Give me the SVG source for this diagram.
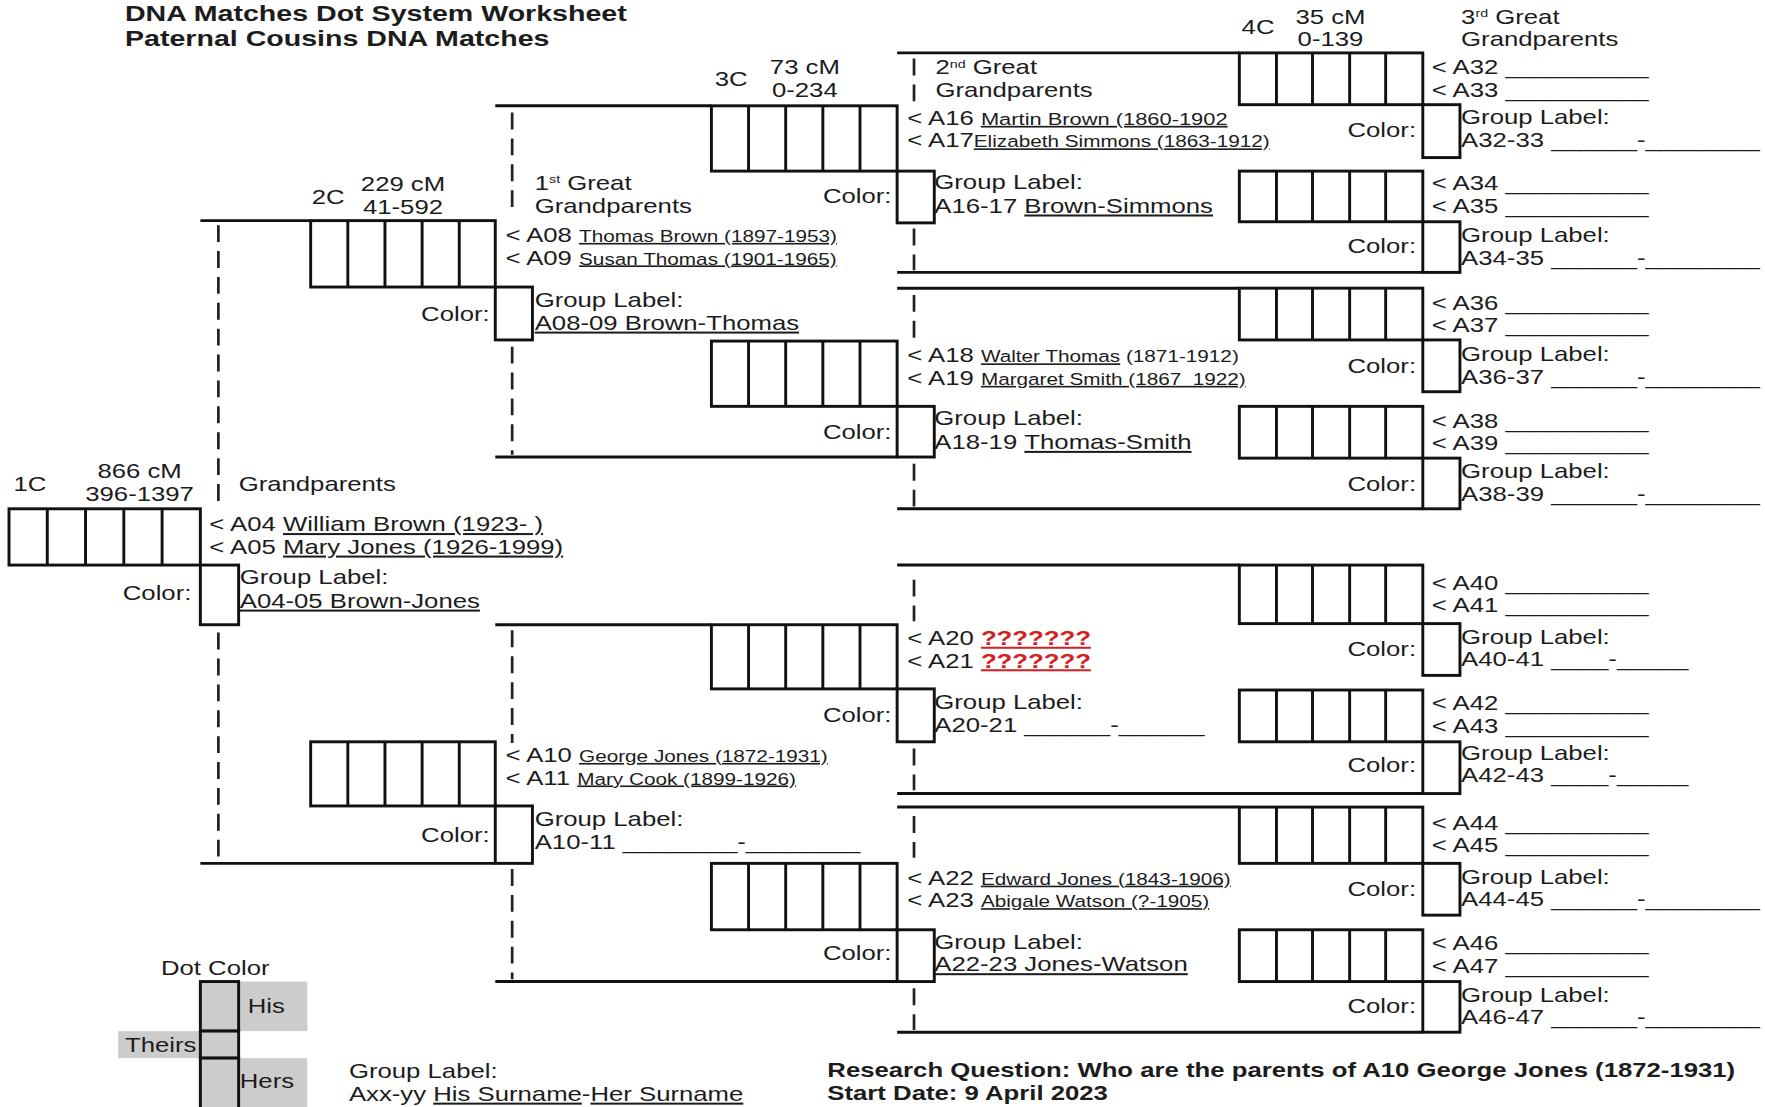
<svg xmlns="http://www.w3.org/2000/svg" width="1765" height="1107" viewBox="0 0 1765 1107">
<style>
.t{font-family:"Liberation Sans",Arial,Helvetica,sans-serif;font-size:18px;fill:#1c1c1c}
.s{font-size:14.5px}
.s2{font-size:15.3px}
.b{font-weight:bold}
.u{text-decoration:underline}
.e{text-anchor:end}
.m{text-anchor:middle}
.sup{font-size:10px}
.red{fill:#d42020;font-weight:bold}
.ln{stroke:#111;stroke-width:2.6;fill:none}
.bx{stroke:#111;stroke-width:2.6;fill:none}
.dash{stroke:#222;stroke-width:2.4;fill:none;stroke-dasharray:15 8}
.gray{fill:#cccccc}
</style>
<rect width="1765" height="1107" fill="#ffffff"/>
<g transform="scale(1.12564)">

<g id="title">
<text class="t b" style="font-size:20px" transform="matrix(1.27 0 0 1 111 19)">DNA Matches Dot System Worksheet</text>
<text class="t b" style="font-size:20px" transform="matrix(1.27 0 0 1 111 41)">Paternal Cousins DNA Matches</text>
</g>

<g id="connectors">
<path class="ln" d="M178,196H276 M178,767H440 M440,94H632 M440,406H797 M440,555H632 M440,872H797 M797,47H1101 M797,242H1264 M797,256H1101 M797,452H1264 M797,502H1101 M797,705H1264 M797,717H1101 M797,917H1264"/>
<path class="dash" d="M194,200V450 M194,562V765 M455,100V192 M455,308V404 M455,560V660 M455,772V870 M812,52V90 M812,203V240 M812,262V300 M812,412V450 M812,515V552 M812,665V702 M812,725V762 M812,878V915"/>
</g>

<g id="generation-labels">
<text class="t" transform="matrix(1.27 0 0 1 12 436)">1C</text>
<text class="t m" transform="matrix(1.27 0 0 1 124 425)">866 cM</text>
<text class="t m" transform="matrix(1.27 0 0 1 124 445)">396-1397</text>
<text class="t" transform="matrix(1.27 0 0 1 212 436)">Grandparents</text>
<text class="t" transform="matrix(1.27 0 0 1 277 181)">2C</text>
<text class="t m" transform="matrix(1.27 0 0 1 358 170)">229 cM</text>
<text class="t m" transform="matrix(1.27 0 0 1 358 190)">41-592</text>
<text class="t" transform="matrix(1.27 0 0 1 475 169)">1<tspan class="sup" dy="-6">st</tspan><tspan dy="6"> Great</tspan></text>
<text class="t" transform="matrix(1.27 0 0 1 475 189)">Grandparents</text>
<text class="t" transform="matrix(1.27 0 0 1 635 76)">3C</text>
<text class="t m" transform="matrix(1.27 0 0 1 715 66)">73 cM</text>
<text class="t m" transform="matrix(1.27 0 0 1 715 86)">0-234</text>
<text class="t" transform="matrix(1.27 0 0 1 831 66)">2<tspan class="sup" dy="-6">nd</tspan><tspan dy="6"> Great</tspan></text>
<text class="t" transform="matrix(1.27 0 0 1 831 86)">Grandparents</text>
<text class="t" transform="matrix(1.27 0 0 1 1103 30)">4C</text>
<text class="t m" transform="matrix(1.27 0 0 1 1182 21)">35 cM</text>
<text class="t m" transform="matrix(1.27 0 0 1 1182 41)">0-139</text>
<text class="t" transform="matrix(1.27 0 0 1 1298 21)">3<tspan class="sup" dy="-6">rd</tspan><tspan dy="6"> Great</tspan></text>
<text class="t" transform="matrix(1.27 0 0 1 1298 41)">Grandparents</text>
</g>

<g id="gen1-A04-05">
<rect class="bx" x="8" y="452" width="170" height="50"/>
<path class="bx" d="M42,452V502 M76,452V502 M110,452V502 M144,452V502"/>
<rect class="bx" x="178" y="502" width="34" height="53"/>
<text class="t e" transform="matrix(1.27 0 0 1 170 533)">Color:</text>
<text class="t" transform="matrix(1.27 0 0 1 186 472)">&lt; A04 <tspan class="u">William Brown (1923- )</tspan></text>
<text class="t" transform="matrix(1.27 0 0 1 186 492)">&lt; A05 <tspan class="u">Mary Jones (1926-1999)</tspan></text>
<text class="t" transform="matrix(1.27 0 0 1 213 519)">Group Label:</text>
<text class="t u" transform="matrix(1.27 0 0 1 213 540)">A04-05 Brown-Jones</text>
</g>

<g id="gen2-A08-09">
<rect class="bx" x="276" y="196" width="164" height="59"/>
<path class="bx" d="M309,196V255 M342,196V255 M375,196V255 M408,196V255"/>
<rect class="bx" x="440" y="255" width="33" height="47"/>
<text class="t e" transform="matrix(1.27 0 0 1 435 285)">Color:</text>
<text class="t" transform="matrix(1.27 0 0 1 449 215)">&lt; A08 <tspan class="s u">Thomas Brown (1897-1953)</tspan></text>
<text class="t" transform="matrix(1.27 0 0 1 449 235)">&lt; A09 <tspan class="s u">Susan Thomas (1901-1965)</tspan></text>
<text class="t" transform="matrix(1.27 0 0 1 475 273)">Group Label:</text>
<text class="t u" transform="matrix(1.27 0 0 1 475 293)">A08-09 Brown-Thomas</text>
</g>

<g id="gen2-A10-11">
<rect class="bx" x="276" y="659" width="164" height="57"/>
<path class="bx" d="M309,659V716 M342,659V716 M375,659V716 M408,659V716"/>
<rect class="bx" x="440" y="716" width="33" height="51"/>
<text class="t e" transform="matrix(1.27 0 0 1 435 748)">Color:</text>
<text class="t" transform="matrix(1.27 0 0 1 449 677)">&lt; A10 <tspan class="s u">George Jones (1872-1931)</tspan></text>
<text class="t" transform="matrix(1.27 0 0 1 449 697)">&lt; A11 <tspan class="s u">Mary Cook (1899-1926)</tspan></text>
<text class="t" transform="matrix(1.27 0 0 1 475 734)">Group Label:</text>
<text class="t" transform="matrix(1.27 0 0 1 475 754)">A10-11 ________-________</text>
</g>

<g id="gen3-A16-17">
<rect class="bx" x="632" y="94" width="165" height="58"/>
<path class="bx" d="M665,94V152 M698,94V152 M731,94V152 M764,94V152"/>
<rect class="bx" x="797" y="152" width="33" height="46"/>
<text class="t e" transform="matrix(1.27 0 0 1 792 180)">Color:</text>
<text class="t" transform="matrix(1.27 0 0 1 806 111)">&lt; A16 <tspan class="s2 u">Martin Brown (1860-1902</tspan></text>
<text class="t" transform="matrix(1.27 0 0 1 806 131)">&lt; A17<tspan class="s u">Elizabeth Simmons (1863-1912)</tspan></text>
<text class="t" transform="matrix(1.27 0 0 1 830 168)">Group Label:</text>
<text class="t" transform="matrix(1.27 0 0 1 830 189)">A16-17 <tspan class="u">Brown-Simmons</tspan></text>
</g>

<g id="gen3-A18-19">
<rect class="bx" x="632" y="303" width="165" height="58"/>
<path class="bx" d="M665,303V361 M698,303V361 M731,303V361 M764,303V361"/>
<rect class="bx" x="797" y="361" width="33" height="45"/>
<text class="t e" transform="matrix(1.27 0 0 1 792 390)">Color:</text>
<text class="t" transform="matrix(1.27 0 0 1 806 322)">&lt; A18 <tspan class="s u">Walter Thomas</tspan><tspan class="s"> (1871-1912)</tspan></text>
<text class="t" transform="matrix(1.27 0 0 1 806 342)">&lt; A19 <tspan class="s u">Margaret Smith (1867&#160; 1922)</tspan></text>
<text class="t" transform="matrix(1.27 0 0 1 830 378)">Group Label:</text>
<text class="t" transform="matrix(1.27 0 0 1 830 399)">A18-19 <tspan class="u">Thomas-Smith</tspan></text>
</g>

<g id="gen3-A20-21">
<rect class="bx" x="632" y="555" width="165" height="57"/>
<path class="bx" d="M665,555V612 M698,555V612 M731,555V612 M764,555V612"/>
<rect class="bx" x="797" y="612" width="33" height="47"/>
<text class="t e" transform="matrix(1.27 0 0 1 792 641)">Color:</text>
<text class="t" transform="matrix(1.27 0 0 1 806 573)">&lt; A20 <tspan class="red u">???????</tspan></text>
<text class="t" transform="matrix(1.27 0 0 1 806 593)">&lt; A21 <tspan class="red u">???????</tspan></text>
<text class="t" transform="matrix(1.27 0 0 1 830 630)">Group Label:</text>
<text class="t" transform="matrix(1.27 0 0 1 830 650)">A20-21 ______-______</text>
</g>

<g id="gen3-A22-23">
<rect class="bx" x="632" y="767" width="165" height="59"/>
<path class="bx" d="M665,767V826 M698,767V826 M731,767V826 M764,767V826"/>
<rect class="bx" x="797" y="826" width="33" height="46"/>
<text class="t e" transform="matrix(1.27 0 0 1 792 853)">Color:</text>
<text class="t" transform="matrix(1.27 0 0 1 806 786)">&lt; A22 <tspan class="s u">Edward Jones (1843-1906)</tspan></text>
<text class="t" transform="matrix(1.27 0 0 1 806 806)">&lt; A23 <tspan class="s u">Abigale Watson (?-1905)</tspan></text>
<text class="t" transform="matrix(1.27 0 0 1 830 843)">Group Label:</text>
<text class="t u" transform="matrix(1.27 0 0 1 830 863)">A22-23 Jones-Watson</text>
</g>

<g id="gen4-A32-33">
<rect class="bx" x="1101" y="47" width="163" height="46"/>
<path class="bx" d="M1134,47V93 M1166,47V93 M1199,47V93 M1231,47V93"/>
<rect class="bx" x="1264" y="93" width="33" height="47"/>
<text class="t e" transform="matrix(1.27 0 0 1 1258 122)">Color:</text>
<text class="t" transform="matrix(1.27 0 0 1 1272 66)">&lt; A32 __________</text>
<text class="t" transform="matrix(1.27 0 0 1 1272 86)">&lt; A33 __________</text>
<text class="t" transform="matrix(1.27 0 0 1 1298 110)">Group Label:</text>
<text class="t" transform="matrix(1.27 0 0 1 1298 131)">A32-33 ______-________</text>
</g>

<g id="gen4-A34-35">
<rect class="bx" x="1101" y="152" width="163" height="45"/>
<path class="bx" d="M1134,152V197 M1166,152V197 M1199,152V197 M1231,152V197"/>
<rect class="bx" x="1264" y="197" width="33" height="45"/>
<text class="t e" transform="matrix(1.27 0 0 1 1258 225)">Color:</text>
<text class="t" transform="matrix(1.27 0 0 1 1272 169)">&lt; A34 __________</text>
<text class="t" transform="matrix(1.27 0 0 1 1272 189)">&lt; A35 __________</text>
<text class="t" transform="matrix(1.27 0 0 1 1298 215)">Group Label:</text>
<text class="t" transform="matrix(1.27 0 0 1 1298 235)">A34-35 ______-________</text>
</g>

<g id="gen4-A36-37">
<rect class="bx" x="1101" y="256" width="163" height="46"/>
<path class="bx" d="M1134,256V302 M1166,256V302 M1199,256V302 M1231,256V302"/>
<rect class="bx" x="1264" y="302" width="33" height="46"/>
<text class="t e" transform="matrix(1.27 0 0 1 1258 331)">Color:</text>
<text class="t" transform="matrix(1.27 0 0 1 1272 275)">&lt; A36 __________</text>
<text class="t" transform="matrix(1.27 0 0 1 1272 295)">&lt; A37 __________</text>
<text class="t" transform="matrix(1.27 0 0 1 1298 321)">Group Label:</text>
<text class="t" transform="matrix(1.27 0 0 1 1298 341)">A36-37 ______-________</text>
</g>

<g id="gen4-A38-39">
<rect class="bx" x="1101" y="361" width="163" height="46"/>
<path class="bx" d="M1134,361V407 M1166,361V407 M1199,361V407 M1231,361V407"/>
<rect class="bx" x="1264" y="407" width="33" height="45"/>
<text class="t e" transform="matrix(1.27 0 0 1 1258 436)">Color:</text>
<text class="t" transform="matrix(1.27 0 0 1 1272 380)">&lt; A38 __________</text>
<text class="t" transform="matrix(1.27 0 0 1 1272 400)">&lt; A39 __________</text>
<text class="t" transform="matrix(1.27 0 0 1 1298 425)">Group Label:</text>
<text class="t" transform="matrix(1.27 0 0 1 1298 445)">A38-39 ______-________</text>
</g>

<g id="gen4-A40-41">
<rect class="bx" x="1101" y="502" width="163" height="52"/>
<path class="bx" d="M1134,502V554 M1166,502V554 M1199,502V554 M1231,502V554"/>
<rect class="bx" x="1264" y="554" width="33" height="46"/>
<text class="t e" transform="matrix(1.27 0 0 1 1258 583)">Color:</text>
<text class="t" transform="matrix(1.27 0 0 1 1272 524)">&lt; A40 __________</text>
<text class="t" transform="matrix(1.27 0 0 1 1272 544)">&lt; A41 __________</text>
<text class="t" transform="matrix(1.27 0 0 1 1298 572)">Group Label:</text>
<text class="t" transform="matrix(1.27 0 0 1 1298 592)">A40-41 ____-_____</text>
</g>

<g id="gen4-A42-43">
<rect class="bx" x="1101" y="613" width="163" height="46"/>
<path class="bx" d="M1134,613V659 M1166,613V659 M1199,613V659 M1231,613V659"/>
<rect class="bx" x="1264" y="659" width="33" height="46"/>
<text class="t e" transform="matrix(1.27 0 0 1 1258 686)">Color:</text>
<text class="t" transform="matrix(1.27 0 0 1 1272 631)">&lt; A42 __________</text>
<text class="t" transform="matrix(1.27 0 0 1 1272 651)">&lt; A43 __________</text>
<text class="t" transform="matrix(1.27 0 0 1 1298 675)">Group Label:</text>
<text class="t" transform="matrix(1.27 0 0 1 1298 695)">A42-43 ____-_____</text>
</g>

<g id="gen4-A44-45">
<rect class="bx" x="1101" y="717" width="163" height="50"/>
<path class="bx" d="M1134,717V767 M1166,717V767 M1199,717V767 M1231,717V767"/>
<rect class="bx" x="1264" y="767" width="33" height="46"/>
<text class="t e" transform="matrix(1.27 0 0 1 1258 796)">Color:</text>
<text class="t" transform="matrix(1.27 0 0 1 1272 737)">&lt; A44 __________</text>
<text class="t" transform="matrix(1.27 0 0 1 1272 757)">&lt; A45 __________</text>
<text class="t" transform="matrix(1.27 0 0 1 1298 785)">Group Label:</text>
<text class="t" transform="matrix(1.27 0 0 1 1298 805)">A44-45 ______-________</text>
</g>

<g id="gen4-A46-47">
<rect class="bx" x="1101" y="826" width="163" height="46"/>
<path class="bx" d="M1134,826V872 M1166,826V872 M1199,826V872 M1231,826V872"/>
<rect class="bx" x="1264" y="872" width="33" height="45"/>
<text class="t e" transform="matrix(1.27 0 0 1 1258 900)">Color:</text>
<text class="t" transform="matrix(1.27 0 0 1 1272 844)">&lt; A46 __________</text>
<text class="t" transform="matrix(1.27 0 0 1 1272 864)">&lt; A47 __________</text>
<text class="t" transform="matrix(1.27 0 0 1 1298 890)">Group Label:</text>
<text class="t" transform="matrix(1.27 0 0 1 1298 910)">A46-47 ______-________</text>
</g>

<g id="legend">
<text class="t" transform="matrix(1.27 0 0 1 143 866)">Dot Color</text>
<rect class="gray" x="212" y="872" width="61" height="44"/>
<rect class="gray" x="105" y="916" width="73" height="24"/>
<rect class="gray" x="212" y="940" width="61" height="44"/>
<rect class="gray bx" style="fill:#cccccc" x="178" y="872" width="34" height="44"/>
<rect class="gray bx" style="fill:#cccccc" x="178" y="916" width="34" height="24"/>
<rect class="gray bx" style="fill:#cccccc" x="178" y="940" width="34" height="46"/>
<text class="t" transform="matrix(1.27 0 0 1 220 900)">His</text>
<text class="t" transform="matrix(1.27 0 0 1 111 935)">Theirs</text>
<text class="t" transform="matrix(1.27 0 0 1 213 967)">Hers</text>
<text class="t" transform="matrix(1.27 0 0 1 310 958)">Group Label:</text>
<text class="t" transform="matrix(1.27 0 0 1 310 978)">Axx-yy <tspan class="u">His Surname</tspan>-<tspan class="u">Her Surname</tspan></text>
</g>

<g id="research">
<text class="t b" transform="matrix(1.27 0 0 1 735 957)">Research Question: Who are the parents of A10 George Jones (1872-1931)</text>
<text class="t b" transform="matrix(1.27 0 0 1 735 977)">Start Date: 9 April 2023</text>
</g>

</g>
</svg>
